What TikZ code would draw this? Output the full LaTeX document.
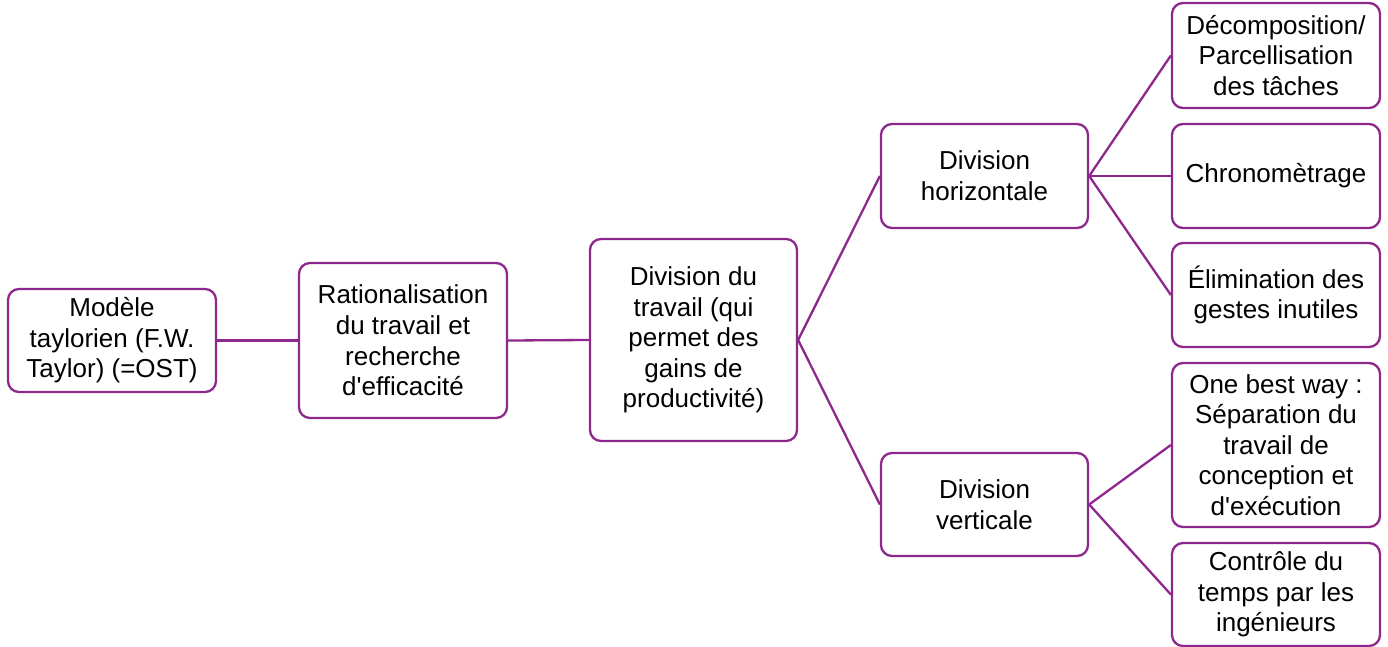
\documentclass[tikz,border=0pt]{standalone}
\usepackage{fontspec}
\setmainfont{Liberation Sans}
\definecolor{purp}{RGB}{142,40,140}
\newcommand{\apos}{\textquotesingle}
\begin{document}
\begin{tikzpicture}[x=1pt,y=-1pt,
  box/.style={draw=purp,line width=2.3pt,rounded corners=11pt,fill=white,
    align=center,inner sep=0pt,font=\fontsize{26}{30.6}\selectfont},
  link/.style={draw=purp,line width=2.3pt}]
\useasboundingbox (0,0) rectangle (1388,647);
\node[box,minimum width=208,minimum height=103] (a) at (112,340.5) {Modèle\\taylorien (F.W.\\Taylor) (=OST)};
\node[box,minimum width=208,minimum height=155] (b) at (403,340.5) {Rationalisation\\du travail et\\recherche\\d\apos efficacité};
\node[box,minimum width=207,minimum height=202] (c) at (693.5,340) {Division du\\travail (qui\\permet des\\gains de\\productivité)};
\node[box,minimum width=207,minimum height=104] (d) at (984.5,176) {Division\\horizontale};
\node[box,minimum width=207,minimum height=103] (e) at (984.5,504.5) {Division\\verticale};
\node[box,minimum width=208,minimum height=105] (f) at (1276,55.5) {Décomposition/\\Parcellisation\\des tâches};
\node[box,minimum width=208,minimum height=104] (g) at (1276,176) {Chronomètrage};
\node[box,minimum width=208,minimum height=104] (h) at (1276,295) {Élimination des\\gestes inutiles};
\node[box,minimum width=208,minimum height=164] (i) at (1276,445) {One best way :\\Séparation du\\travail de\\conception et\\d\apos exécution};
\node[box,minimum width=208,minimum height=103] (j) at (1276,594.5) {Contrôle du\\temps par les\\ingénieurs};
\draw[link] (a.east) -- (b.west);
\draw[link] (b.east) -- (c.west);
\draw[link] (c.east) -- (d.west);
\draw[link] (c.east) -- (e.west);
\draw[link] (d.east) -- (f.west);
\draw[link] (d.east) -- (g.west);
\draw[link] (d.east) -- (h.west);
\draw[link] (e.east) -- (i.west);
\draw[link] (e.east) -- (j.west);
\end{tikzpicture}
\end{document}
